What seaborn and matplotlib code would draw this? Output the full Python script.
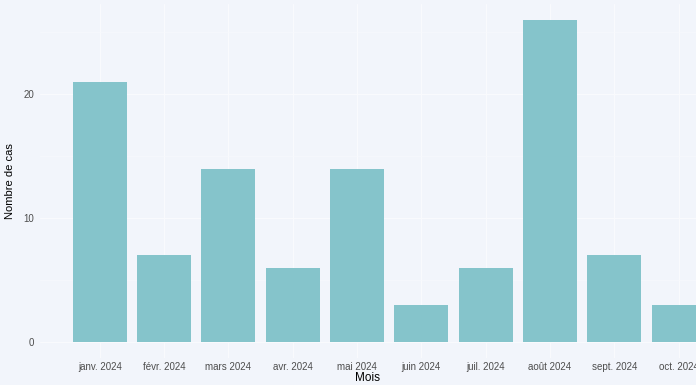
# Nombre de cas par mois, barres style ggplot minimal

import matplotlib
matplotlib.use('Agg')
import matplotlib.pyplot as plt
import pandas as pd
import seaborn as sns

mois = ['janv. 2024', 'févr. 2024', 'mars 2024', 'avr. 2024', 'mai 2024',
        'juin 2024', 'juil. 2024', 'août 2024', 'sept. 2024', 'oct. 2024']
cas = [21, 7, 14, 6, 14, 3, 6, 26, 7, 3]

BG = '#F2F5FB'
BAR = '#85C4CB'


def main():
    df = pd.DataFrame({'mois': mois, 'cas': cas})

    sns.set_theme(style='white')
    plt.rcParams['font.family'] = ['Liberation Sans', 'DejaVu Sans']

    fig = plt.figure(figsize=(6.96, 3.85), dpi=100, facecolor=BG)
    ax = fig.add_axes([40 / 696, 27 / 385, 656 / 696, 354 / 385])
    ax.set_facecolor(BG)

    sns.barplot(data=df, x='mois', y='cas', color=BAR, width=0.84,
                saturation=1, linewidth=0, ax=ax, zorder=3)

    ax.set_xlim(-0.93, 9.27)
    ax.set_ylim(-1.3, 27.3)
    ax.set_yticks([0, 10, 20])
    ax.set_yticks([5, 15, 25], minor=True)

    ax.grid(True, which='major', color='#FAFBFE', linewidth=0.7, zorder=0)
    ax.grid(True, which='minor', axis='y', color='#F7F9FD', linewidth=0.5, zorder=0)
    for s in ax.spines.values():
        s.set_visible(False)

    ax.tick_params(axis='both', length=0, labelsize=7, colors='#4D4D4D')
    ax.tick_params(axis='x', pad=3)
    ax.tick_params(axis='y', pad=4)
    ax.set_xlabel('Mois', fontsize=8.5, color='black', labelpad=0)
    ax.set_ylabel('Nombre de cas', fontsize=8, color='black', labelpad=6)

    fig.savefig('out.png', dpi=100, facecolor=BG)
    plt.close(fig)


if __name__ == '__main__':
    main()
